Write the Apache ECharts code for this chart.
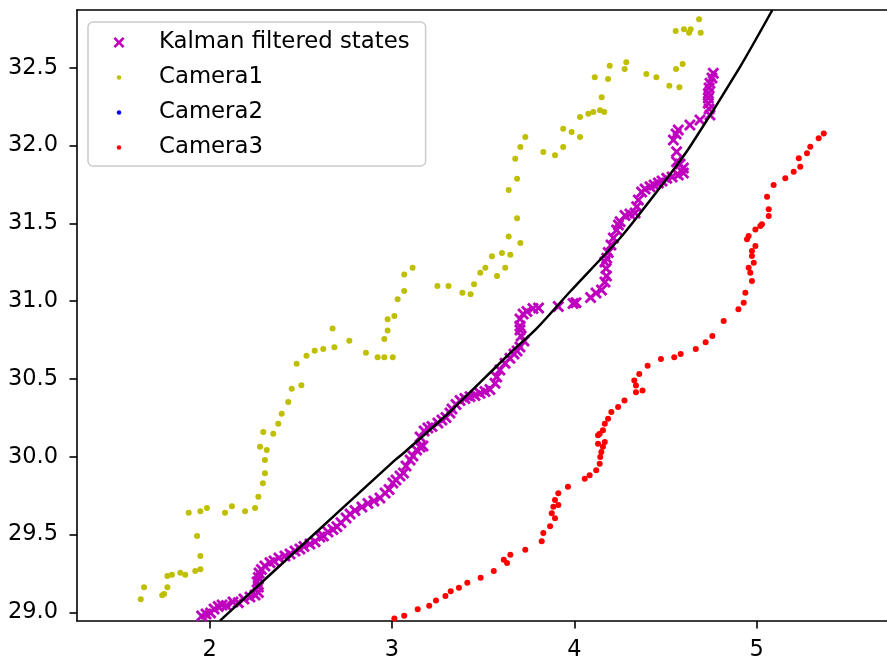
<!DOCTYPE html>
<html>
<head>
<meta charset="utf-8">
<script src="https://cdn.jsdelivr.net/npm/echarts@6/dist/echarts.min.js"></script>
<style>
html,body{margin:0;padding:0;background:#fff;}
#chart{width:887px;height:656px;}
</style>
</head>
<body>
<div id="chart"></div>
<script>
// ---- data ----
const xTicks = [2, 3, 4, 5];
const yTicks = [29.0, 29.5, 30.0, 30.5, 31.0, 31.5, 32.0, 32.5];
const xRange = [1.2724, 5.7148];
const yRange = [28.944, 32.871];

const kalmanStates = [
[1.956,28.976],[1.980,28.989],[2.005,28.996],[2.024,29.021],[2.047,29.037],[2.068,29.047],[2.092,29.044],[2.128,29.066],
[2.157,29.062],[2.188,29.085],[2.221,29.098],[2.249,29.111],[2.267,29.127],[2.267,29.163],[2.260,29.195],[2.267,29.224],
[2.271,29.253],[2.284,29.275],[2.303,29.298],[2.331,29.319],[2.353,29.330],[2.380,29.349],[2.413,29.362],[2.441,29.375],
[2.468,29.394],[2.495,29.407],[2.517,29.423],[2.550,29.439],[2.578,29.454],[2.605,29.484],[2.624,29.490],[2.649,29.516],
[2.676,29.532],[2.698,29.550],[2.720,29.576],[2.748,29.606],[2.770,29.632],[2.797,29.654],[2.835,29.677],[2.868,29.699],
[2.901,29.715],[2.934,29.735],[2.962,29.767],[2.984,29.789],[3.005,29.831],[3.022,29.850],[3.044,29.876],[3.063,29.895],
[3.077,29.940],[3.099,29.979],[3.115,30.005],[3.135,30.043],[3.154,30.062],[3.170,30.069],[3.154,30.127],[3.176,30.165],
[3.197,30.184],[3.219,30.194],[3.252,30.217],[3.274,30.236],[3.296,30.252],[3.318,30.281],[3.329,30.307],[3.351,30.335],
[3.373,30.361],[3.400,30.374],[3.428,30.386],[3.455,30.393],[3.483,30.407],[3.510,30.419],[3.537,30.432],[3.565,30.472],
[3.574,30.512],[3.592,30.557],[3.620,30.600],[3.647,30.632],[3.669,30.660],[3.686,30.679],[3.702,30.705],[3.724,30.744],
[3.708,30.776],[3.702,30.814],[3.702,30.840],[3.702,30.885],[3.719,30.917],[3.740,30.933],[3.773,30.952],[3.804,30.956],
[3.912,30.965],[3.993,30.985],[4.009,30.990],[4.089,31.023],[4.119,31.052],[4.149,31.071],[4.168,31.123],[4.176,31.161],
[4.174,31.210],[4.168,31.251],[4.178,31.275],[4.186,31.312],[4.201,31.361],[4.214,31.406],[4.232,31.457],[4.242,31.489],
[4.251,31.510],[4.278,31.550],[4.305,31.560],[4.333,31.566],[4.342,31.607],[4.351,31.650],[4.369,31.701],[4.388,31.720],
[4.415,31.735],[4.437,31.746],[4.461,31.759],[4.481,31.772],[4.507,31.789],[4.536,31.798],[4.570,31.810],[4.598,31.823],
[4.598,31.855],[4.580,31.881],[4.561,31.896],[4.561,31.960],[4.543,32.035],[4.558,32.074],[4.570,32.100],[4.634,32.132],
[4.689,32.164],[4.744,32.196],[4.739,32.235],[4.735,32.271],[4.735,32.305],[4.735,32.335],[4.739,32.370],[4.744,32.400],
[4.755,32.434],[4.762,32.464]
];

const camera1 = [
[1.622,29.084],[1.640,29.161],[1.740,29.109],[1.750,29.118],[1.768,29.161],[1.768,29.233],[1.793,29.242],[1.839,29.254],
[1.866,29.242],[1.921,29.265],[1.949,29.276],[1.949,29.362],[1.931,29.490],[1.885,29.640],[1.949,29.649],[1.985,29.670],
[2.084,29.640],[2.122,29.681],[2.194,29.649],[2.249,29.670],[2.267,29.743],[2.292,29.829],[2.303,29.893],[2.303,29.979],
[2.276,30.064],[2.313,30.043],[2.294,30.159],[2.349,30.148],[2.376,30.212],[2.395,30.276],[2.431,30.352],[2.450,30.437],
[2.503,30.459],[2.477,30.598],[2.531,30.649],[2.576,30.681],[2.623,30.692],[2.684,30.703],[2.674,30.824],[2.766,30.745],
[2.857,30.668],[2.921,30.639],[2.958,30.639],[3.004,30.639],[2.958,30.756],[2.976,30.811],[2.976,30.883],[3.013,30.904],
[3.031,31.012],[3.067,31.065],[3.067,31.171],[3.113,31.214],[3.249,31.097],[3.310,31.097],[3.386,31.054],[3.431,31.044],
[3.450,31.108],[3.484,31.183],[3.512,31.215],[3.548,31.288],[3.576,31.161],[3.603,31.309],[3.621,31.215],[3.649,31.298],
[3.640,31.416],[3.704,31.373],[3.686,31.532],[3.640,31.714],[3.686,31.787],[3.676,31.915],[3.704,31.990],[3.731,32.055],
[3.830,31.958],[3.894,31.937],[3.939,31.990],[3.939,32.108],[3.985,32.087],[4.031,32.055],[4.031,32.183],[4.077,32.204],
[4.104,32.215],[4.141,32.226],[4.164,32.215],[4.150,32.310],[4.112,32.438],[4.185,32.427],[4.194,32.513],[4.276,32.492],
[4.285,32.535],[4.395,32.459],[4.450,32.438],[4.521,32.384],[4.576,32.374],[4.558,32.492],[4.594,32.524],[4.556,32.736],
[4.601,32.747],[4.629,32.725],[4.638,32.747],[4.684,32.811],[4.693,32.725]
];

const camera2 = [];

const camera3 = [
[3.013,28.960],[3.067,28.978],[3.141,29.020],[3.204,29.042],[3.241,29.075],[3.293,29.105],[3.322,29.135],[3.367,29.158],
[3.413,29.190],[3.486,29.222],[3.558,29.265],[3.613,29.338],[3.631,29.317],[3.649,29.370],[3.731,29.402],[3.821,29.456],
[3.830,29.510],[3.867,29.553],[3.894,29.604],[3.876,29.636],[3.885,29.679],[3.912,29.690],[3.894,29.722],[3.912,29.765],
[3.965,29.807],[4.057,29.859],[4.084,29.880],[4.120,29.913],[4.139,29.955],[4.142,29.998],[4.148,30.030],[4.157,30.064],
[4.130,30.084],[4.167,30.094],[4.130,30.138],[4.139,30.148],[4.157,30.170],[4.167,30.212],[4.185,30.244],[4.203,30.287],
[4.240,30.319],[4.275,30.361],[4.338,30.414],[4.374,30.425],[4.338,30.458],[4.329,30.490],[4.356,30.531],[4.402,30.585],
[4.475,30.628],[4.548,30.639],[4.583,30.660],[4.666,30.692],[4.720,30.735],[4.757,30.776],[4.819,30.872],[4.900,30.948],
[4.929,30.990],[4.938,31.054],[4.974,31.129],[4.965,31.183],[4.956,31.215],[4.984,31.247],[4.974,31.290],[4.974,31.322],
[4.993,31.354],[4.947,31.397],[4.956,31.418],[4.993,31.461],[5.020,31.483],[5.029,31.494],[5.066,31.547],[5.066,31.590],
[5.057,31.671],[5.093,31.746],[5.157,31.789],[5.203,31.832],[5.239,31.864],[5.231,31.918],[5.276,31.950],[5.294,31.992],
[5.340,32.046],[5.368,32.078]
];

const trueTrack = [
[2.057,28.946],[2.495,29.418],[3.007,29.968],[3.062,30.022],[3.318,30.289],[3.647,30.665],[3.794,30.825],[3.976,31.060],
[4.250,31.404],[4.360,31.564],[4.515,31.799],[4.634,31.992],[4.909,32.506],[5.086,32.871]
];

const legendNames = ['Kalman filtered states', 'Camera1', 'Camera2', 'Camera3'];

// ---- styling ----
const FONT = 'DejaVu Sans';
const XMARK = 'path://M0,1.7L1.7,0L5,3.3L8.3,0L10,1.7L6.7,5L10,8.3L8.3,10L5,6.7L1.7,10L0,8.3L3.3,5Z';
const DOT_ICON = 'path://M0,0M11,11M3.25,5.5A2.25,2.25,0,1,1,7.75,5.5A2.25,2.25,0,1,1,3.25,5.5Z';
const spine = {color: '#000', width: 1.6};

const chart = echarts.init(document.getElementById('chart'), null, {renderer: 'canvas'});
chart.setOption({
  animation: false,
  backgroundColor: '#fff',
  grid: {left: 77, right: 0, top: 10, bottom: 35, containLabel: false, outerBoundsMode: 'none'},
  legend: {
    orient: 'vertical', left: 88, top: 22,
    itemWidth: 70, itemHeight: 11, itemGap: 12.0,
    padding: [9, 16, 7, 25.5],
    backgroundColor: 'rgba(255,255,255,0.8)', borderColor: '#cccccc', borderWidth: 1.5, borderRadius: 5,
    selectedMode: false,
    textStyle: {fontFamily: FONT, fontSize: 22.8, color: '#000', lineHeight: 22},
    data: [
      {name: legendNames[0], icon: XMARK},
      {name: legendNames[1], icon: DOT_ICON},
      {name: legendNames[2], icon: DOT_ICON},
      {name: legendNames[3], icon: DOT_ICON}
    ]
  },
  xAxis: [{
    type: 'value', position: 'bottom', min: xRange[0], max: xRange[1],
    axisLine: {show: true, onZero: false, lineStyle: spine},
    axisTick: {show: true, inside: false, length: 7.5, lineStyle: spine, customValues: xTicks},
    axisLabel: {show: true, customValues: xTicks, margin: 18, fontFamily: FONT, fontSize: 22.5, color: '#000',
      formatter: v => String(v)},
    splitLine: {show: false}
  }, {
    type: 'value', position: 'top', min: xRange[0], max: xRange[1],
    axisLine: {show: true, onZero: false, lineStyle: spine},
    axisTick: {show: false}, axisLabel: {show: false}, splitLine: {show: false}
  }],
  yAxis: {
    type: 'value', min: yRange[0], max: yRange[1],
    axisLine: {show: true, onZero: false, lineStyle: spine},
    axisTick: {show: true, inside: false, length: 7.5, lineStyle: spine, customValues: yTicks},
    axisLabel: {show: true, customValues: yTicks, margin: 19, fontFamily: FONT, fontSize: 22.5, color: '#000',
      formatter: v => v.toFixed(1)},
    splitLine: {show: false}
  },
  series: [
    {name: legendNames[0], type: 'scatter', data: kalmanStates, symbol: XMARK, symbolSize: 12,
     itemStyle: {color: '#bf00bf', opacity: 1}, emphasis: {disabled: true}, z: 2},
    {name: legendNames[1], type: 'scatter', data: camera1, symbol: 'circle', symbolSize: 6,
     itemStyle: {color: '#bfbf00', opacity: 1}, emphasis: {disabled: true}, z: 2},
    {name: legendNames[2], type: 'scatter', data: camera2, symbol: 'circle', symbolSize: 6,
     itemStyle: {color: '#0000ff', opacity: 1}, emphasis: {disabled: true}, z: 2},
    {name: legendNames[3], type: 'scatter', data: camera3, symbol: 'circle', symbolSize: 6,
     itemStyle: {color: '#ff0000', opacity: 1}, emphasis: {disabled: true}, z: 2},
    {name: 'true track', type: 'line', data: trueTrack, showSymbol: false, symbol: 'none',
     smooth: 0.25, clip: true,
     lineStyle: {color: '#000', width: 2.5}, emphasis: {disabled: true}, z: 3}
  ]
});
</script>
</body>
</html>
